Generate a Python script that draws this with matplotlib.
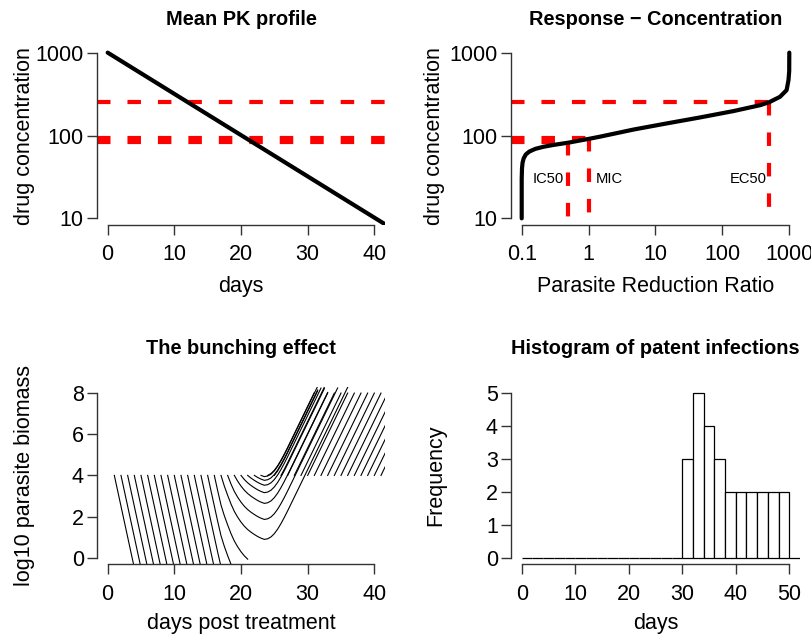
import numpy as np
import matplotlib
matplotlib.use("Agg")
import matplotlib.pyplot as plt
from matplotlib.ticker import FixedLocator, NullLocator

plt.rcParams['font.family'] = ['Liberation Sans', 'DejaVu Sans']

W, H = 812, 639
AXIS_COLOR = '#333333'
RED = '#ff0000'

# --- Mean PK profile (log concentration vs days)
pk_days = [0, 41.7]
pk_conc = [1000, 8.4]
ec50_conc = 252
mic_conc = 93
ic50_conc = 83

# --- Response - Concentration curve (PRR vs concentration)
prr = [0.1, 0.1, 0.101, 0.103, 0.107, 0.115, 0.13, 0.16, 0.21, 0.3, 0.5, 1.0, 1.5,
       4.7, 14.8, 46, 146, 365, 500, 726, 912, 973, 997, 1000]
prr_conc = [10, 30, 40, 47, 53, 59, 64, 69, 73, 77, 82, 91, 97,
            118, 140, 165, 197, 232, 252, 293, 353, 467, 600, 1000]
ic50_prr = 0.5
mic_prr = 1
ec50_prr = 500
label_conc = 29.5

# --- bunching effect: log10 biomass path shared by all infections (0.5 day steps)
sim_days = np.arange(0, 42.5, 0.5)
sim_level = [0, -0.75, -1.5, -2.25, -3.0, -3.75, -4.5, -5.25, -6.0, -6.75,
             -7.5, -8.25, -9.0, -9.75, -10.5, -11.25, -12.0, -12.75, -13.5, -14.25,
             -15.0, -15.75, -16.5, -17.25, -18.0, -18.75, -19.5, -20.25, -21.0, -21.75,
             -22.5, -23.25, -23.99, -24.73, -25.43, -25.95, -26.40, -26.82, -27.18, -27.46,
             -27.70, -27.90, -28.06, -28.19, -28.30, -28.40, -28.48, -28.54, -28.51, -28.42,
             -28.26, -28.04, -27.77, -27.47, -27.150, -26.817, -26.483, -26.150, -25.817, -25.483,
             -25.150, -24.817, -24.483, -24.150, -23.817, -23.483, -23.150, -22.817, -22.483, -22.150,
             -21.817, -21.483, -21.150, -20.817, -20.483, -20.150, -19.817, -19.483, -19.150, -18.817,
             -18.483, -18.150, -17.817, -17.483, -17.150]
start_days = [1, 2, 3, 4, 5, 6, 7, 8, 9, 10, 11, 12, 13, 14, 15, 16, 17, 18, 19, 20,
              21, 22, 23, 24, 25, 26, 27, 28, 29, 30, 31, 32, 33, 34, 35, 36, 37, 38, 39, 40, 41]
start_level = 4
patent_level = 8

# --- Histogram of patent infections
hist_left = [0, 2, 4, 6, 8, 10, 12, 14, 16, 18, 20, 22, 24, 26, 28,
             30, 32, 34, 36, 38, 40, 42, 44, 46, 48, 50]
hist_counts = [0, 0, 0, 0, 0, 0, 0, 0, 0, 0, 0, 0, 0, 0, 0,
               3, 5, 4, 3, 2, 2, 2, 2, 2, 2, 0]


def px_axes(fig, left, top, right, bottom):
    return fig.add_axes([left / W, 1 - bottom / H, (right - left) / W, (bottom - top) / H])


def r_style(ax, xb, yb):
    for s in ['top', 'right']:
        ax.spines[s].set_visible(False)
    ax.spines['left'].set_bounds(*yb)
    ax.spines['bottom'].set_bounds(*xb)
    for s in ['left', 'bottom']:
        ax.spines[s].set_color(AXIS_COLOR)
        ax.spines[s].set_linewidth(1.0)
    ax.tick_params(direction='out', length=7.5, width=1.0, color=AXIS_COLOR, labelsize=15.5)
    ax.tick_params(axis='x', pad=6.5)
    ax.tick_params(axis='y', pad=2)


def ftext(fig, x, y, s, **kw):
    fig.text(x / W, 1 - y / H, s, ha='center', va='center', **kw)


def red_dash(ax, x, y):
    ln, = ax.plot(x, y, color=RED, lw=3, solid_capstyle='butt')
    ln.set_linestyle((0, (3.24, 4.07)))
    return ln


fig = plt.figure(figsize=(W / 100, H / 100), dpi=100)

# panel 1
ax1 = px_axes(fig, 97, 46, 385, 225)
ax1.set_yscale('log')
ax1.set_xlim(-1.6, 41.6)
ax1.set_ylim(10 ** 0.92, 10 ** 3.08)
for c in [ec50_conc, mic_conc, ic50_conc]:
    red_dash(ax1, [-1.6, 41.6], [c, c])
ax1.plot(pk_days, pk_conc, color='black', lw=3, solid_capstyle='round')
ax1.xaxis.set_major_locator(FixedLocator([0, 10, 20, 30, 40]))
ax1.yaxis.set_major_locator(FixedLocator([10, 100, 1000]))
ax1.yaxis.set_minor_locator(NullLocator())
ax1.set_yticklabels(['10', '100', '1000'])
r_style(ax1, (0, 40), (10, 1000))

# panel 2
ax2 = px_axes(fig, 511, 46, 800, 225)
ax2.set_xscale('log')
ax2.set_yscale('log')
xl = (10 ** -1.16, 10 ** 3.16)
ax2.set_xlim(*xl)
ax2.set_ylim(10 ** 0.92, 10 ** 3.08)
red_dash(ax2, [xl[0], ec50_prr], [ec50_conc, ec50_conc])
red_dash(ax2, [ec50_prr, ec50_prr], [ec50_conc, 10])
red_dash(ax2, [xl[0], mic_prr], [mic_conc, mic_conc])
red_dash(ax2, [mic_prr, mic_prr], [mic_conc, 10])
red_dash(ax2, [xl[0], ic50_prr], [ic50_conc, ic50_conc])
red_dash(ax2, [ic50_prr, ic50_prr], [ic50_conc, 10])
ax2.plot(prr, prr_conc, color='black', lw=3, solid_capstyle='round')
ax2.annotate('IC50', (ic50_prr, label_conc), xytext=(-3.5, 0), textcoords='offset points',
             ha='right', va='center', fontsize=10.6)
ax2.annotate('MIC', (mic_prr, label_conc), xytext=(5, 0), textcoords='offset points',
             ha='left', va='center', fontsize=10.6)
ax2.annotate('EC50', (ec50_prr, label_conc), xytext=(-2, 0), textcoords='offset points',
             ha='right', va='center', fontsize=10.6)
ax2.xaxis.set_major_locator(FixedLocator([0.1, 1, 10, 100, 1000]))
ax2.xaxis.set_minor_locator(NullLocator())
ax2.set_xticklabels(['0.1', '1', '10', '100', '1000'])
ax2.yaxis.set_major_locator(FixedLocator([10, 100, 1000]))
ax2.yaxis.set_minor_locator(NullLocator())
ax2.set_yticklabels(['10', '100', '1000'])
r_style(ax2, (0.1, 1000), (10, 1000))

# panel 3
ax3 = px_axes(fig, 97, 386.5, 385, 564.3)
ax3.set_xlim(-1.6, 41.6)
ax3.set_ylim(-0.32, 8.32)
level = np.array(sim_level)
for d in start_days:
    i = int(round(d / 0.5))
    v = start_level + level[i:] - level[i]
    t = sim_days[i:]
    cut = len(v)
    for k in range(1, len(v)):
        if v[k] >= patent_level - 1e-6 or v[k] <= 0:
            cut = k + 1
            break
    ax3.plot(t[:cut], v[:cut], color='black', lw=0.8)
ax3.xaxis.set_major_locator(FixedLocator([0, 10, 20, 30, 40]))
ax3.yaxis.set_major_locator(FixedLocator([0, 2, 4, 6, 8]))
r_style(ax3, (0, 40), (0, 8))

# panel 4
ax4 = px_axes(fig, 511, 386.5, 800, 564.3)
ax4.set_xlim(-2, 52)
ax4.set_ylim(-0.2, 5.2)
ax4.bar(hist_left, hist_counts, width=2, align='edge', facecolor='white',
        edgecolor='black', linewidth=0.9)
ax4.xaxis.set_major_locator(FixedLocator([0, 10, 20, 30, 40, 50]))
ax4.yaxis.set_major_locator(FixedLocator([0, 1, 2, 3, 4, 5]))
r_style(ax4, (0, 50), (0, 5))

# titles and axis labels
tkw = dict(fontsize=14.4, fontweight='bold')
ftext(fig, 241, 19.5, 'Mean PK profile', **tkw)
ftext(fig, 655.5, 19.5, 'Response \u2212 Concentration', **tkw)
ftext(fig, 241, 348, 'The bunching effect', **tkw)
ftext(fig, 655.5, 348, 'Histogram of patent infections', **tkw)

lkw = dict(fontsize=15.5)
ftext(fig, 241, 286.5, 'days', **lkw)
ftext(fig, 655.5, 286.5, 'Parasite Reduction Ratio', **lkw)
ftext(fig, 241, 623, 'days post treatment', **lkw)
ftext(fig, 655.5, 623, 'days', **lkw)
ftext(fig, 24.5, 136, 'drug concentration', rotation=90, **lkw)
ftext(fig, 435, 136, 'drug concentration', rotation=90, **lkw)
ftext(fig, 24.7, 475.5, 'log10 parasite biomass', rotation=90, **lkw)
ftext(fig, 436, 475.5, 'Frequency', rotation=90, **lkw)

fig.savefig('out.png', dpi=100, facecolor='white')
